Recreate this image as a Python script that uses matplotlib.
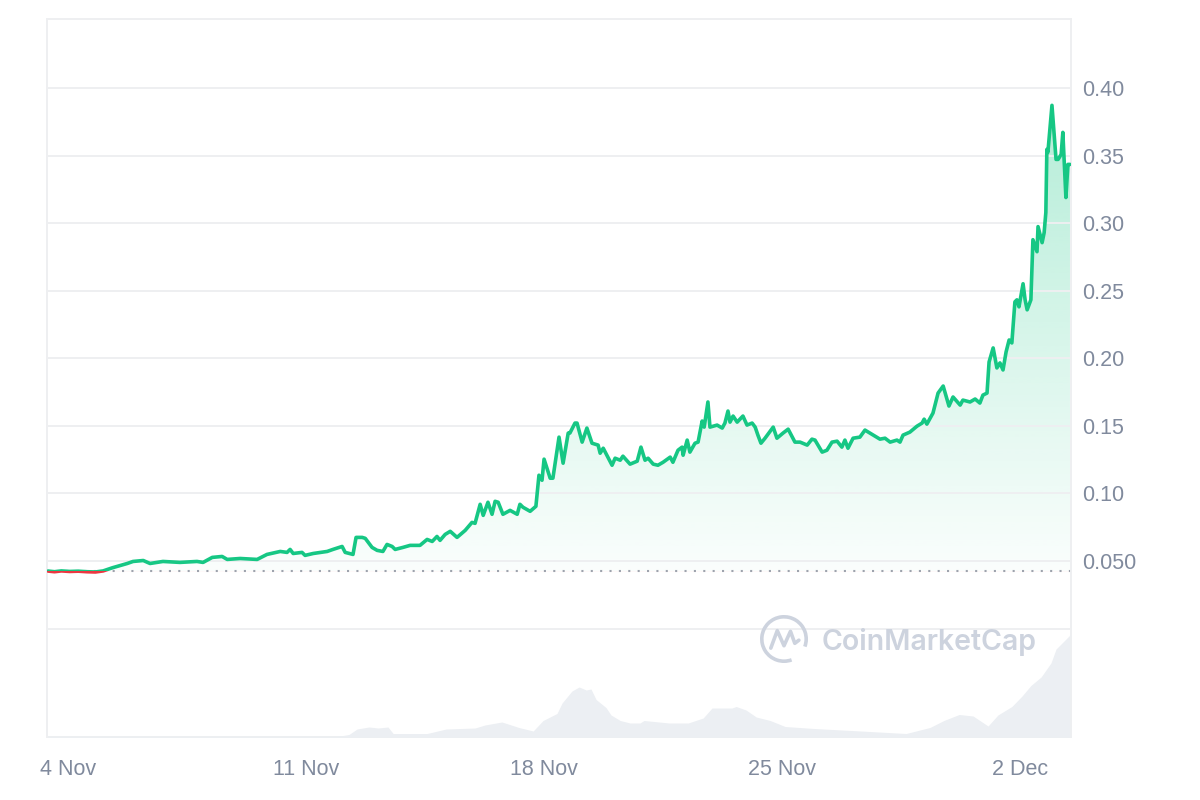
import numpy as np
import matplotlib
matplotlib.use("Agg")
import matplotlib.pyplot as plt
from matplotlib.colors import to_rgb
from matplotlib.patches import Rectangle, Arc

plt.rcParams['font.family'] = ['Liberation Sans', 'DejaVu Sans']

# Price (USD), time in days since 4 Nov 00:00
days = [-0.59, -0.40, -0.20, 0.05, 0.30, 0.55, 0.80, 1.03, 1.30, 1.74,
        1.91, 2.21, 2.41, 2.79, 3.29, 3.79, 3.97, 4.24, 4.53, 4.68,
        5.06, 5.56, 5.85, 6.24, 6.44, 6.53, 6.62, 6.88, 6.97, 7.21,
        7.62, 7.79, 8.06, 8.15, 8.38, 8.47, 8.65, 8.74, 8.94, 9.09,
        9.26, 9.38, 9.53, 9.62, 9.85, 10.06, 10.35, 10.56, 10.71, 10.85,
        10.94, 11.09, 11.24, 11.44, 11.68, 11.88, 11.97, 12.12, 12.21, 12.35,
        12.47, 12.56, 12.65, 12.79, 13.00, 13.21, 13.29, 13.38, 13.59, 13.76,
        13.85, 13.94, 14.00, 14.18, 14.26, 14.44, 14.56, 14.71, 14.76, 14.91,
        14.97, 15.12, 15.26, 15.41, 15.59, 15.65, 15.74, 16.00, 16.09, 16.24,
        16.32, 16.53, 16.74, 16.85, 16.97, 17.06, 17.21, 17.35, 17.50, 17.71,
        17.79, 17.94, 18.06, 18.09, 18.21, 18.29, 18.44, 18.53, 18.65, 18.71,
        18.82, 18.88, 19.09, 19.24, 19.32, 19.41, 19.47, 19.56, 19.68, 19.85,
        19.97, 20.12, 20.21, 20.29, 20.38, 20.50, 20.74, 20.85, 21.03, 21.18,
        21.38, 21.53, 21.74, 21.88, 21.97, 22.18, 22.32, 22.47, 22.62, 22.76,
        22.85, 22.94, 23.09, 23.29, 23.44, 23.68, 23.88, 24.03, 24.18, 24.38,
        24.47, 24.56, 24.76, 24.97, 25.12, 25.18, 25.26, 25.44, 25.59, 25.74,
        25.91, 26.03, 26.24, 26.32, 26.53, 26.68, 26.82, 26.91, 27.03, 27.09,
        27.21, 27.32, 27.41, 27.50, 27.59, 27.68, 27.76, 27.85, 27.91, 27.97,
        28.09, 28.15, 28.21, 28.32, 28.38, 28.50, 28.53, 28.65, 28.71, 28.76,
        28.79, 28.82, 28.94, 29.06, 29.12, 29.21, 29.26, 29.35, 29.41, 29.47]
price = [0.0426, 0.0421, 0.0427, 0.0423, 0.0425, 0.0421, 0.0419, 0.0427, 0.0450, 0.0482,
         0.0497, 0.0504, 0.0482, 0.0497, 0.0490, 0.0497, 0.0490, 0.0527, 0.0534, 0.0512,
         0.0519, 0.0512, 0.0549, 0.0571, 0.0564, 0.0586, 0.0556, 0.0564, 0.0542, 0.0556,
         0.0571, 0.0586, 0.0608, 0.0564, 0.0549, 0.0675, 0.0675, 0.0668, 0.0601, 0.0579,
         0.0571, 0.0623, 0.0608, 0.0586, 0.0601, 0.0616, 0.0616, 0.0660, 0.0645, 0.0682,
         0.0653, 0.0697, 0.0720, 0.0675, 0.0727, 0.0786, 0.0779, 0.0920, 0.0838, 0.0935,
         0.0846, 0.0942, 0.0935, 0.0846, 0.0875, 0.0846, 0.0920, 0.0898, 0.0868, 0.0905,
         0.1135, 0.1098, 0.1254, 0.1113, 0.1113, 0.1417, 0.1224, 0.1447, 0.1447, 0.1521,
         0.1521, 0.1380, 0.1484, 0.1372, 0.1358, 0.1298, 0.1335, 0.1209, 0.1261, 0.1246,
         0.1276, 0.1217, 0.1239, 0.1343, 0.1246, 0.1261, 0.1217, 0.1209, 0.1231, 0.1269,
         0.1231, 0.1320, 0.1343, 0.1283, 0.1395, 0.1306, 0.1372, 0.1380, 0.1536, 0.1491,
         0.1677, 0.1491, 0.1506, 0.1484, 0.1521, 0.1610, 0.1528, 0.1573, 0.1528, 0.1573,
         0.1506, 0.1521, 0.1491, 0.1432, 0.1372, 0.1409, 0.1491, 0.1409, 0.1447, 0.1476,
         0.1380, 0.1380, 0.1358, 0.1402, 0.1395, 0.1306, 0.1320, 0.1380, 0.1387, 0.1343,
         0.1395, 0.1335, 0.1409, 0.1417, 0.1469, 0.1432, 0.1402, 0.1409, 0.1380, 0.1395,
         0.1380, 0.1432, 0.1454, 0.1498, 0.1521, 0.1550, 0.1513, 0.1595, 0.1743, 0.1795,
         0.1647, 0.1714, 0.1654, 0.1691, 0.1677, 0.1699, 0.1669, 0.1728, 0.1743, 0.1973,
         0.2077, 0.1929, 0.1966, 0.1914, 0.2047, 0.2136, 0.2114, 0.2418, 0.2433, 0.2381,
         0.2552, 0.2433, 0.2359, 0.2433, 0.2878, 0.2789, 0.2975, 0.2856, 0.2930, 0.3079,
         0.3546, 0.3524, 0.3872, 0.3472, 0.3472, 0.3509, 0.3672, 0.3190, 0.3435, 0.3435]

# 24h volume (arbitrary units)
vol_days = [-0.59, 8.00, 8.26, 8.50, 8.85, 9.12, 9.41, 9.56, 10.56, 11.12,
            11.97, 12.26, 12.76, 13.26, 13.68, 13.97, 14.38, 14.53, 14.82, 15.03,
            15.24, 15.38, 15.53, 15.82, 15.97, 16.24, 16.53, 16.82, 16.94, 17.68,
            18.24, 18.68, 18.94, 19.53, 19.65, 19.94, 20.24, 20.65, 21.09, 21.94,
            22.94, 24.65, 25.35, 25.76, 26.21, 26.62, 27.06, 27.35, 27.76, 28.06,
            28.32, 28.62, 28.91, 29.06, 29.47]
volume = [0.5, 1.0, 2.5, 8.0, 10.0, 9.0, 10.0, 3.5, 3.5, 8.0,
          9.0, 12.0, 15.0, 9.5, 6.0, 16.5, 23.5, 34.0, 46.0, 50.0,
          47.0, 48.0, 37.5, 29.5, 22.0, 16.5, 14.0, 14.0, 16.5, 14.0,
          14.0, 19.0, 29.0, 29.0, 30.5, 27.0, 20.0, 16.5, 10.5, 8.5,
          6.7, 3.5, 9.5, 16.5, 22.5, 21.0, 11.0, 22.0, 30.5, 41.0,
          51.5, 60.0, 74.0, 88.0, 102.0]

open_price = 0.0425
tick_days = [0, 7, 14, 21, 28]
tick_labels = ['4 Nov', '11 Nov', '18 Nov', '25 Nov', '2 Dec']
price_ticks = [0.05, 0.10, 0.15, 0.20, 0.25, 0.30, 0.35, 0.40]
price_labels = ['0.050', '0.10', '0.15', '0.20', '0.25', '0.30', '0.35', '0.40']

GREEN = '#16c784'
RED = '#ea3943'
GRID = '#eeeff1'
LABEL = '#808a9d'
WATERMARK = '#cdd3de'

fig = plt.figure(figsize=(12, 8), dpi=100)
ax = fig.add_axes([0.0392, 0.07875, 0.8533, 0.8975])
x0, x1 = -0.62, 29.5
y0, y1 = -0.0802, 0.4511

# volume area on a hidden twin axis
vax = ax.twinx()
vax.fill_between(vol_days, volume, 0, color='#eceff3', lw=0)
vax.set_ylim(0, max(volume) * 7.04)
vax.axis('off')

# gradient fill under the price line
fill = ax.fill_between(days, price, open_price, facecolor='none', edgecolor='none')
clip = fill.get_paths()[0]
grad = np.zeros((256, 1, 4))
grad[..., :3] = to_rgb(GREEN)
grad[:, 0, 3] = np.linspace(0.02, 0.32, 256)
im = ax.imshow(grad, extent=[x0, x1, open_price, max(price)], origin='lower',
               aspect='auto', zorder=1, interpolation='bilinear')
im.set_clip_path(clip, fill.get_transform())
rgrad = np.zeros((2, 1, 4))
rgrad[..., :3] = to_rgb(RED)
rgrad[..., 3] = 0.15
im2 = ax.imshow(rgrad, extent=[x0, x1, y0, open_price], origin='lower',
                aspect='auto', zorder=1)
im2.set_clip_path(clip, fill.get_transform())

# price line: green above the opening price, red below it
g, = ax.plot(days, price, color=GREEN, lw=2.6, zorder=3,
             solid_joinstyle='round', solid_capstyle='round')
g.set_clip_path(Rectangle((x0, open_price), x1 - x0, y1 - open_price,
                          transform=ax.transData))
r, = ax.plot(days, price, color=RED, lw=2.6, zorder=3,
             solid_joinstyle='round', solid_capstyle='round')
r.set_clip_path(Rectangle((x0, y0), x1 - x0, open_price - y0,
                          transform=ax.transData))

ax.axhline(open_price, color='#9ea3ad', lw=1.5, ls=(0, (1, 3.5)), zorder=2)
ax.axhline(0, color=GRID, lw=1.4, zorder=0.5)

ax.set_xlim(x0, x1)
ax.set_ylim(y0, y1)
ax.set_yticks(price_ticks, price_labels)
ax.set_xticks(tick_days, tick_labels)
ax.yaxis.tick_right()
ax.set_axisbelow(False)
ax.grid(axis='y', color=GRID, lw=1.4, zorder=0.5)
ax.tick_params(axis='y', length=0, pad=8.0, labelsize=15.5, labelcolor=LABEL)
ax.tick_params(axis='x', length=0, pad=16.0, labelsize=15.5, labelcolor=LABEL)
for s in ax.spines.values():
    s.set_color(GRID)
    s.set_linewidth(1.4)
ax.patch.set_alpha(0)

# watermark
fig.text(822 / 1200, 1 - 642 / 800, 'CoinMarketCap', fontsize=20.5, color=WATERMARK,
         family=['Inter', 'DejaVu Sans'], weight='semibold', ha='left', va='center', zorder=5)
lax = fig.add_axes([760 / 1200, 1 - 663 / 800, 48 / 1200, 48 / 800])
lax.set_xlim(-1, 1)
lax.set_ylim(-1, 1)
lax.axis('off')
lax.add_patch(Arc((0, 0), 1.85, 1.85, theta1=-20, theta2=290, color=WATERMARK, lw=2.6))
lax.plot([-0.55, -0.28, 0.0, 0.27, 0.45, 0.62], [-0.38, 0.35, -0.28, 0.32, -0.18, -0.05],
         color=WATERMARK, lw=2.6, solid_joinstyle='round', solid_capstyle='round')

fig.savefig('out.png', dpi=100)
